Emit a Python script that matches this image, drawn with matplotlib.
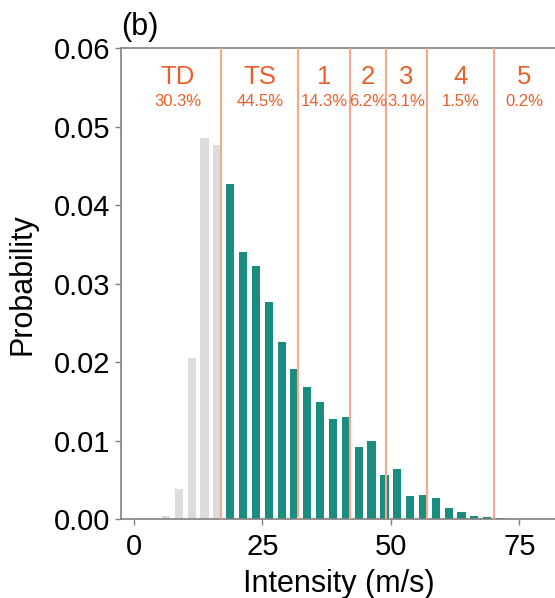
import numpy as np
import matplotlib
matplotlib.use("Agg")
import matplotlib.pyplot as plt

plt.rcParams['font.family'] = ['Liberation Sans', 'DejaVu Sans']

# histogram of intensity, 2.5 m/s bins (bin centres)
bin_centers = [6.25, 8.75, 11.25, 13.75, 16.25,
               18.75, 21.25, 23.75, 26.25, 28.75, 31.25,
               33.75, 36.25, 38.75, 41.25, 43.75, 46.25,
               48.75, 51.25, 53.75, 56.25, 58.75, 61.25,
               63.75, 66.25, 68.75, 71.25]
probability = [0.00045, 0.0039, 0.0205, 0.0486, 0.0476,
               0.0427, 0.0340, 0.0322, 0.0277, 0.0226, 0.0192,
               0.0169, 0.0149, 0.0128, 0.0131, 0.0092, 0.0100,
               0.0057, 0.0064, 0.0030, 0.0031, 0.0027, 0.0014,
               0.0009, 0.0005, 0.0003, 0.0002]

# category boundaries (m/s) and labels
boundaries = [0, 17, 32, 42, 49, 57, 70, 82]
categories = ['TD', 'TS', '1', '2', '3', '4', '5']
shares = ['30.3%', '44.5%', '14.3%', '6.2%', '3.1%', '1.5%', '0.2%']

teal = '#1a8c80'
grey = '#dcdcdc'
line_c = '#f6a98a'
text_c = '#e8602c'
spine_c = '#808080'

fig = plt.figure(figsize=(5.55, 5.98), dpi=100)
ax = fig.add_axes([0.218, 0.1313, 0.8104, 0.7884])

colors = [grey if c < boundaries[1] else teal for c in bin_centers]
ax.bar(bin_centers, probability, width=1.6, color=colors, zorder=2)

for b in boundaries[1:-1]:
    ax.axvline(b, color=line_c, lw=1.5, zorder=3)

for i, (cat, sh) in enumerate(zip(categories, shares)):
    xm = 0.5 * (boundaries[i] + boundaries[i + 1])
    ax.text(xm, 0.0563, cat, color=text_c, fontsize=18.5, ha='center', va='center')
    ax.text(xm, 0.0532, sh, color=text_c, fontsize=12, ha='center', va='center')

ax.set_xlim(-2.5, 85)
ax.set_ylim(0, 0.06)
ax.set_xticks([0, 25, 50, 75])
yt = np.arange(0, 0.061, 0.01)
ax.set_yticks(yt)
ax.set_yticklabels([f'{v:.2f}' for v in yt])
ax.tick_params(labelsize=21, color=spine_c, length=4, width=1)
ax.tick_params(axis='x', pad=6)
ax.set_xlabel('Intensity (m/s)', fontsize=22, labelpad=2)
ax.set_ylabel('Probability', fontsize=22, labelpad=12)
ax.xaxis.set_label_coords(0.484, -0.105)

for s in ['left', 'top', 'bottom']:
    ax.spines[s].set_color(spine_c)
    ax.spines[s].set_linewidth(1.2)
ax.spines['right'].set_visible(False)

ax.text(0.0, 0.0617, '(b)', fontsize=22, ha='left', va='baseline',
        transform=ax.get_yaxis_transform())

fig.savefig('out.png', dpi=100)
